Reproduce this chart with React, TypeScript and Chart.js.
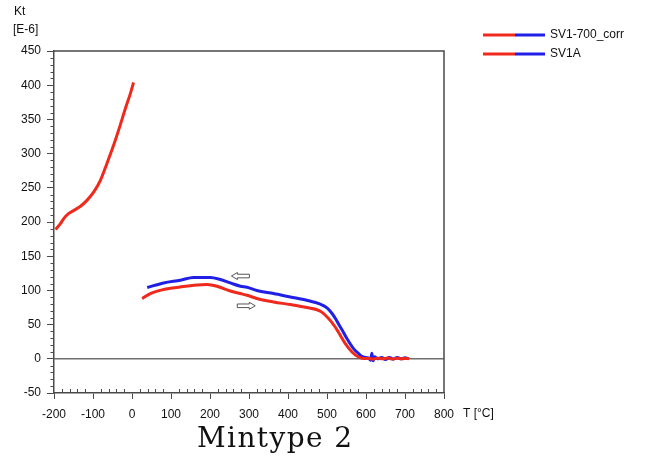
import React, { useEffect, useRef } from "react";
import { Chart, registerables } from "chart.js";

Chart.register(...registerables);

// SV1A – low-temperature run (heating from liquid nitrogen temperature)
const coldT = [-196, -183, -175, -162, -149, -132, -115, -98, -81, -64, -47, -30, -17, -4, 4];
const coldK = [189, 198, 205, 212.5, 217, 223, 232, 244, 261, 286, 312.5, 342, 366, 388, 404];

// SV1-700_corr – heating branch (red)
const heatT = [26, 47, 81, 124, 167, 192, 218, 252, 278, 295, 320, 363, 406, 448, 483, 504, 521, 529, 547, 564, 581, 593, 605, 618, 630, 642, 655, 668, 680, 692, 704, 711];
const heatK = [88, 95.4, 101.3, 105.1, 108, 108.6, 106.1, 99.2, 95.4, 92.9, 88.1, 83.1, 79.3, 74.9, 69.5, 58.8, 46.5, 39.2, 22.2, 10, 2.6, 0.3, 0.8, -0.5, 0.9, 0, 1, -0.4, 0.8, 0, 0.6, 0];

// SV1-700_corr – cooling branch (blue)
const coolT = [39, 81, 124, 158, 201, 226, 252, 278, 295, 320, 363, 406, 448, 483, 500, 512, 522, 530, 540, 551, 568, 581, 593, 606, 612, 615, 618, 622, 630, 640, 650, 660, 670, 680, 690, 700, 709];
const coolK = [104.2, 110.9, 114.9, 118.8, 118.8, 115.9, 110.9, 106.1, 104.6, 99.8, 95.4, 90.4, 85.6, 79.8, 74.5, 67, 58.5, 50.5, 41, 29.6, 14.9, 7.6, 2.6, 1.2, -2, 8, -3, 3, 0, 2, -1, 2, -0.5, 2, 0, 1.5, 0];

const legendLabels = ["SV1-700_corr", "SV1A"];
const xTickMin = -200, xTickMax = 800, xStep = 100, xMinor = 20;
const yTickMin = -50, yTickMax = 450, yStep = 50, yMinor = 10;

// hollow arrows marking heating/cooling direction: [T, Kt, direction]
const arrowT = [278, 293];
const arrowK = [121, 77.5];
const arrowDir = [-1, 1];

const RED = "#ef2a1c";
const BLUE = "#1f1fe6";
const AXIS = "#4a4a4a";
const FONT = '"Liberation Sans", Arial, sans-serif';

export default function App() {
  const ref = useRef<HTMLCanvasElement>(null);

  useEffect(() => {
    const canvas = ref.current!;
    const overlay = {
      id: "overlay",
      beforeDatasetsDraw(chart: any) {
        const { ctx, chartArea: a, scales } = chart;
        ctx.save();
        const y0 = scales.y.getPixelForValue(0);
        ctx.strokeStyle = "#6e6e6e";
        ctx.lineWidth = 1.5;
        ctx.beginPath();
        ctx.moveTo(a.left, y0);
        ctx.lineTo(a.right, y0);
        ctx.stroke();
        ctx.strokeStyle = AXIS;
        ctx.beginPath();
        ctx.moveTo(a.left, a.top);
        ctx.lineTo(a.right, a.top);
        ctx.lineTo(a.right, a.bottom);
        ctx.stroke();
        ctx.lineWidth = 1;
        ctx.beginPath();
        for (let v = yTickMin; v <= yTickMax; v += yMinor) {
          if (v % yStep === 0) continue;
          const py = Math.round(scales.y.getPixelForValue(v)) + 0.5;
          ctx.moveTo(a.left - 3.5, py);
          ctx.lineTo(a.left, py);
        }
        for (let v = xTickMin; v <= xTickMax; v += xMinor) {
          if (v % xStep === 0) continue;
          const px = Math.round(scales.x.getPixelForValue(v)) + 0.5;
          ctx.moveTo(px, a.bottom);
          ctx.lineTo(px, a.bottom - 4);
        }
        ctx.stroke();
        ctx.restore();
      },
      afterDraw(chart: any) {
        const { ctx, scales } = chart;
        ctx.save();
        for (let i = 0; i < arrowT.length; i++) {
          const cx = scales.x.getPixelForValue(arrowT[i]);
          const cy = scales.y.getPixelForValue(arrowK[i]);
          const d = arrowDir[i];
          const L = 9, H = 3.5, S = 1.8, N = 3;
          ctx.beginPath();
          ctx.moveTo(cx + d * L, cy);
          ctx.lineTo(cx + d * N, cy - H);
          ctx.lineTo(cx + d * N, cy - S);
          ctx.lineTo(cx - d * L, cy - S);
          ctx.lineTo(cx - d * L, cy + S);
          ctx.lineTo(cx + d * N, cy + S);
          ctx.lineTo(cx + d * N, cy + H);
          ctx.closePath();
          ctx.fillStyle = "#fff";
          ctx.fill();
          ctx.strokeStyle = "#555";
          ctx.lineWidth = 1;
          ctx.stroke();
        }
        ctx.font = `12px ${FONT}`;
        ctx.textBaseline = "middle";
        ctx.textAlign = "left";
        legendLabels.forEach((lab, i) => {
          const y = 35 + i * 19;
          ctx.lineWidth = 3;
          ctx.strokeStyle = RED;
          ctx.beginPath();
          ctx.moveTo(483, y);
          ctx.lineTo(515, y);
          ctx.stroke();
          ctx.strokeStyle = BLUE;
          ctx.beginPath();
          ctx.moveTo(515, y);
          ctx.lineTo(545, y);
          ctx.stroke();
          ctx.fillStyle = "#111";
          ctx.fillText(lab, 550, y);
        });
        ctx.fillStyle = "#111";
        ctx.fillText("Kt", 14, 12);
        ctx.fillText("[E-6]", 13, 30);
        ctx.fillText("T [°C]", 463, 414);
        ctx.font = '28px "DejaVu Serif", serif';
        ctx.textBaseline = "alphabetic";
        const caption = "Mintype 2";
        const w = ctx.measureText(caption).width;
        const target = 155;
        try {
          (ctx as any).letterSpacing = `${Math.max(0, (target - w) / (caption.length - 1))}px`;
        } catch (e) {}
        ctx.fillStyle = "#111";
        ctx.fillText(caption, 197, 447);
        ctx.restore();
      },
    };

    const toPts = (xs: number[], ys: number[]) => xs.map((x, i) => ({ x, y: ys[i] }));
    const lineStyle = { borderWidth: 3, pointRadius: 0, tension: 0.3, cubicInterpolationMode: "monotone" };

    const chart = new Chart(canvas, {
      type: "line",
      data: {
        datasets: [
          { label: "SV1-700_corr cooling", data: toPts(coolT, coolK), borderColor: BLUE, order: 3, ...lineStyle },
          { label: "SV1-700_corr heating", data: toPts(heatT, heatK), borderColor: RED, order: 2, ...lineStyle },
          { label: "SV1A", data: toPts(coldT, coldK), borderColor: RED, order: 1, ...lineStyle },
        ],
      },
      options: {
        responsive: false,
        animation: false,
        devicePixelRatio: 1,
        layout: { padding: { left: 0, top: 51, right: 204, bottom: 0 } },
        plugins: { legend: { display: false }, tooltip: { enabled: false } },
        scales: {
          x: {
            type: "linear",
            min: xTickMin,
            max: xTickMax,
            ticks: { stepSize: xStep, color: "#111", font: { family: FONT, size: 12 }, padding: 8, maxRotation: 0 },
            grid: { drawOnChartArea: false, drawTicks: true, tickLength: 6, color: AXIS, lineWidth: 1 },
            border: { color: AXIS, width: 1.5 },
            afterFit: (s: any) => { s.height = 66; },
          },
          y: {
            type: "linear",
            min: yTickMin,
            max: yTickMax,
            ticks: { stepSize: yStep, color: "#111", font: { family: FONT, size: 12 }, padding: 6 },
            grid: { drawOnChartArea: false, drawTicks: true, tickLength: 7, color: AXIS, lineWidth: 1 },
            border: { color: AXIS, width: 1.5 },
            afterFit: (s: any) => { s.width = 54; },
          },
        },
      },
      plugins: [overlay],
    } as any);

    return () => chart.destroy();
  }, []);

  return (
    <div style={{ position: "absolute", left: 0, top: 0, width: 648, height: 459, background: "#fff" }}>
      <canvas ref={ref} width={648} height={459} style={{ display: "block", width: 648, height: 459 }} />
    </div>
  );
}
